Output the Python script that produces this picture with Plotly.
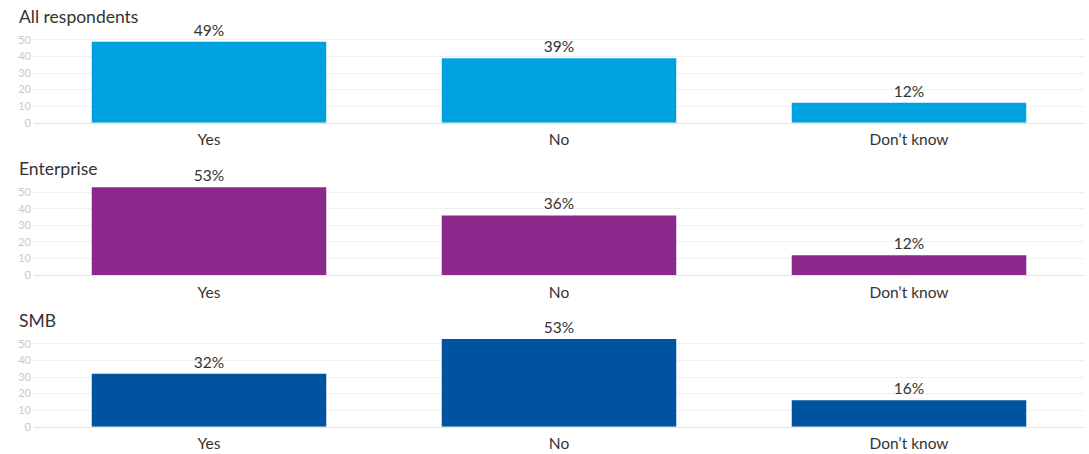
import plotly.graph_objects as go

categories = ["Yes", "No", "Don\u2019t know"]
panel_titles = ["All respondents", "Enterprise", "SMB"]
all_respondents = [49, 39, 12]
enterprise = [53, 36, 12]
smb = [32, 53, 16]
series = [all_respondents, enterprise, smb]
colors = ["#00A1DF", "#8B288B", "#00539F"]
y_ticks = [0, 10, 20, 30, 40, 50]

H = 454.0
# pixel rows of (top, bottom) of each plot area
panels_px = [(31.7, 122.7), (184.0, 275.0), (335.7, 426.7)]
title_px = [16, 168, 320]

fig = go.Figure()
font_family = "Lato, 'Open Sans', sans-serif"

for i, (vals, col) in enumerate(zip(series, colors)):
    xa = "x" if i == 0 else f"x{i+1}"
    ya = "y" if i == 0 else f"y{i+1}"
    fig.add_trace(go.Bar(
        x=categories, y=vals, xaxis=xa, yaxis=ya,
        marker=dict(color=col, line=dict(width=0)),
        text=[f"{v}%" for v in vals], textposition="outside",
        textfont=dict(size=15.5, color="#333333", family=font_family),
        cliponaxis=False, showlegend=False, hoverinfo="skip",
    ))
    top, bot = panels_px[i]
    dom = [1 - bot / H, 1 - top / H]
    xkey = "xaxis" if i == 0 else f"xaxis{i+1}"
    ykey = "yaxis" if i == 0 else f"yaxis{i+1}"
    fig.update_layout({
        xkey: dict(domain=[34 / 1089, 1084 / 1089], anchor=ya,
                   showgrid=False, showline=True, linecolor="#e3e3e3", linewidth=1,
                   ticks="", tickfont=dict(size=15.5, color="#333333", family=font_family),
                   ticklabelstandoff=3, automargin=False, fixedrange=True),
        ykey: dict(domain=dom, anchor=xa, range=[0, 55], tickvals=y_ticks,
                   showgrid=True, gridcolor="#f0f0f0", gridwidth=1,
                   zeroline=False, showline=False, ticks="",
                   tickfont=dict(size=11, color="#c8c8c8", family=font_family),
                   ticklabelstandoff=2, automargin=False, fixedrange=True),
    })
    fig.add_annotation(text=panel_titles[i], xref="paper", yref="paper",
                       x=17 / 1089, y=1 - title_px[i] / H, xanchor="left", yanchor="middle",
                       showarrow=False, font=dict(size=17.5, color="#333333", family=font_family))

fig.update_layout(
    width=1089, height=454, margin=dict(l=0, r=0, t=0, b=0),
    paper_bgcolor="white", plot_bgcolor="white", bargap=0.33,
    font=dict(family=font_family),
)

fig.write_html("out.html")
